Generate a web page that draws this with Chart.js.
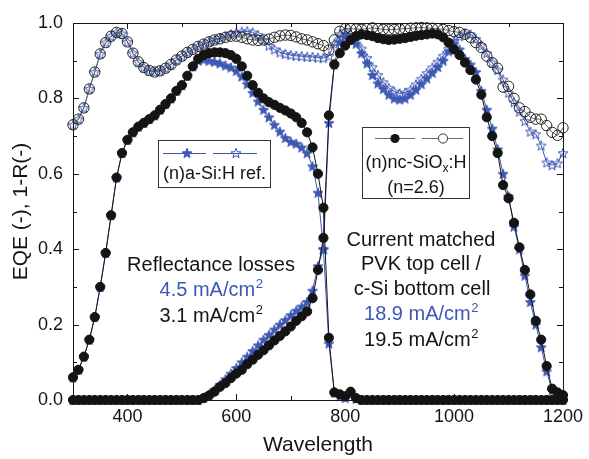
<!DOCTYPE html>
<html>
<head>
<meta charset="utf-8">
<script src="https://cdn.jsdelivr.net/npm/chart.js@4.4.1/dist/chart.umd.min.js"></script>
<style>
  html, body { margin: 0; padding: 0; background: #fff; }
</style>
</head>
<body>
<canvas id="eqeChart" width="589" height="459"></canvas>
<script>
// wavelength (nm), one point every 10 nm
const wavelength = [
  300, 310, 320, 330, 340, 350, 360, 370, 380, 390,
  400, 410, 420, 430, 440, 450, 460, 470, 480, 490,
  500, 510, 520, 530, 540, 550, 560, 570, 580, 590,
  600, 610, 620, 630, 640, 650, 660, 670, 680, 690,
  700, 710, 720, 730, 740, 750, 760, 770, 780, 790,
  800, 810, 820, 830, 840, 850, 860, 870, 880, 890,
  900, 910, 920, 930, 940, 950, 960, 970, 980, 990,
  1000, 1010, 1020, 1030, 1040, 1050, 1060, 1070, 1080, 1090,
  1100, 1110, 1120, 1130, 1140, 1150, 1160, 1170, 1180, 1190,
  1200
];

// EQE of the PVK top cell, (n)nc-SiOx:H (black dots)
const eqeTopNc = [
  0.06, 0.08, 0.115, 0.16, 0.22, 0.30, 0.39, 0.49, 0.59, 0.655,
  0.69, 0.71, 0.725, 0.735, 0.745, 0.755, 0.77, 0.785, 0.80, 0.82,
  0.835, 0.86, 0.885, 0.905, 0.915, 0.92, 0.922, 0.922, 0.92, 0.915,
  0.905, 0.885, 0.86, 0.835, 0.815, 0.80, 0.79, 0.783, 0.775, 0.768,
  0.76, 0.75, 0.735, 0.71, 0.67, 0.60, 0.51, 0.165, 0.02, 0.015,
  0.01, 0.022, 0.005, 0, 0, 0, 0, 0, 0, 0,
  0, 0, 0, 0, 0, 0, 0, 0, 0, 0,
  0, 0, 0, 0, 0, 0, 0, 0, 0, 0,
  0, 0, 0, 0, 0, 0, 0, 0, 0, 0,
  0
];

// EQE of the PVK top cell, (n)a-Si:H ref. (blue stars)
const eqeTopA = [
  0.06, 0.08, 0.115, 0.16, 0.22, 0.30, 0.39, 0.49, 0.59, 0.655,
  0.69, 0.71, 0.725, 0.735, 0.745, 0.755, 0.77, 0.785, 0.80, 0.82,
  0.835, 0.86, 0.885, 0.90, 0.903, 0.90, 0.897, 0.893, 0.887, 0.882,
  0.873, 0.858, 0.838, 0.815, 0.792, 0.77, 0.75, 0.73, 0.712, 0.695,
  0.685, 0.68, 0.67, 0.655, 0.62, 0.55, 0.40, 0.15, 0.02, 0.01,
  0.005, 0.015, 0.003, 0, 0, 0, 0, 0, 0, 0,
  0, 0, 0, 0, 0, 0, 0, 0, 0, 0,
  0, 0, 0, 0, 0, 0, 0, 0, 0, 0,
  0, 0, 0, 0, 0, 0, 0, 0, 0, 0,
  0
];

// EQE of the c-Si bottom cell, (n)nc-SiOx:H (black dots)
const eqeBotNc = [
  0, 0, 0, 0, 0, 0, 0, 0, 0, 0,
  0, 0, 0, 0, 0, 0, 0, 0, 0, 0,
  0, 0, 0, 0, 0.005, 0.012, 0.022, 0.035, 0.045, 0.058,
  0.07, 0.08, 0.095, 0.107, 0.12, 0.132, 0.145, 0.158, 0.17, 0.182,
  0.195, 0.21, 0.222, 0.235, 0.27, 0.345, 0.43, 0.755, 0.89, 0.92,
  0.94, 0.955, 0.965, 0.97, 0.968, 0.965, 0.96, 0.957, 0.955, 0.956,
  0.958, 0.96, 0.963, 0.966, 0.968, 0.97, 0.972, 0.97, 0.962, 0.948,
  0.93, 0.915, 0.895, 0.875, 0.85, 0.81, 0.75, 0.70, 0.655, 0.57,
  0.535, 0.47, 0.405, 0.345, 0.28, 0.21, 0.16, 0.09, 0.03, 0.02,
  0.013
];

// EQE of the c-Si bottom cell, (n)a-Si:H ref. (blue stars)
const eqeBotA = [
  0, 0, 0, 0, 0, 0, 0, 0, 0, 0,
  0, 0, 0, 0, 0, 0, 0, 0, 0, 0,
  0, 0, 0, 0, 0.006, 0.015, 0.027, 0.04, 0.055, 0.07,
  0.085, 0.10, 0.115, 0.13, 0.145, 0.16, 0.173, 0.187, 0.20, 0.212,
  0.225, 0.237, 0.248, 0.26, 0.29, 0.355, 0.40, 0.735, 0.89, 0.95,
  0.965, 0.958, 0.945, 0.92, 0.893, 0.862, 0.84, 0.825, 0.81, 0.80,
  0.797, 0.80, 0.81, 0.823, 0.838, 0.853, 0.868, 0.883, 0.90, 0.925,
  0.945, 0.93, 0.905, 0.89, 0.87, 0.82, 0.77, 0.72, 0.665, 0.60,
  0.54, 0.46, 0.40, 0.33, 0.26, 0.20, 0.14, 0.076, 0.025, 0.015,
  0.01
];

// 1-R, (n)nc-SiOx:H (open circles)
const oneMinusRNc = [
  0.73, 0.745, 0.775, 0.825, 0.87, 0.918, 0.948, 0.965, 0.975, 0.972,
  0.95, 0.92, 0.897, 0.882, 0.874, 0.87, 0.873, 0.88, 0.89, 0.902,
  0.912, 0.922, 0.93, 0.938, 0.944, 0.95, 0.955, 0.958, 0.962, 0.965,
  0.965, 0.962, 0.958, 0.955, 0.954, 0.955, 0.957, 0.962, 0.966, 0.968,
  0.967, 0.963, 0.958, 0.955, 0.95, 0.945, 0.94, 0.928, 0.955, 0.978,
  0.985, 0.985, 0.984, 0.983, 0.985, 0.987, 0.985, 0.983, 0.982, 0.983,
  0.984, 0.985, 0.986, 0.987, 0.988, 0.987, 0.986, 0.985, 0.983, 0.98,
  0.977, 0.975, 0.97, 0.962, 0.948, 0.935, 0.912, 0.895, 0.88, 0.83,
  0.832, 0.80, 0.775, 0.765, 0.75, 0.745, 0.745, 0.728, 0.71, 0.702,
  0.722
];

// 1-R, (n)a-Si:H ref. (open stars)
const oneMinusRA = [
  0.73, 0.745, 0.775, 0.825, 0.87, 0.918, 0.948, 0.965, 0.975, 0.972,
  0.95, 0.92, 0.897, 0.882, 0.874, 0.87, 0.873, 0.88, 0.89, 0.902,
  0.912, 0.922, 0.93, 0.938, 0.944, 0.95, 0.955, 0.96, 0.965, 0.97,
  0.974, 0.977, 0.978, 0.975, 0.968, 0.955, 0.94, 0.93, 0.922, 0.918,
  0.915, 0.913, 0.912, 0.91, 0.91, 0.908, 0.907, 0.912, 0.945, 0.97,
  0.978, 0.97, 0.955, 0.932, 0.907, 0.883, 0.862, 0.843, 0.828, 0.818,
  0.813, 0.815, 0.823, 0.837, 0.852, 0.867, 0.882, 0.897, 0.913, 0.932,
  0.952, 0.965, 0.972, 0.97, 0.958, 0.94, 0.92, 0.895, 0.875, 0.85,
  0.815, 0.79, 0.765, 0.74, 0.712, 0.705, 0.675, 0.63, 0.623, 0.628,
  0.655
];

const xMajorTicks = [400, 600, 800, 1000, 1200];
const xMinorTicks = [300, 500, 700, 900, 1100];
const yMajorTicks = [0, 0.2, 0.4, 0.6, 0.8, 1.0];
const yMinorTicks = [0.1, 0.3, 0.5, 0.7, 0.9];

const BLUE = '#3d58b4';
const INK = '#141414';
const GREY = '#6a6a6a';
const FONT = '"Liberation Sans", Arial, sans-serif';

const toPts = ys => wavelength.map((w, i) => ({ x: w, y: ys[i] }));

// 5 pointed star marker, drawn once into a small canvas
function makeStar(fill, stroke) {
  const c = document.createElement('canvas');
  c.width = 12; c.height = 12;
  const g = c.getContext('2d');
  g.beginPath();
  for (let k = 0; k < 10; k++) {
    const r = k % 2 === 0 ? 5.2 : 2.2;
    const a = -Math.PI / 2 + k * Math.PI / 5;
    const px = 6 + r * Math.cos(a), py = 6.5 + r * Math.sin(a);
    if (k === 0) g.moveTo(px, py); else g.lineTo(px, py);
  }
  g.closePath();
  if (fill) { g.fillStyle = fill; g.fill(); }
  g.strokeStyle = stroke;
  g.lineWidth = 1;
  g.stroke();
  return c;
}
const starFilled = makeStar(BLUE, BLUE);
const starOpen = makeStar(null, BLUE);

function line(ctx, x1, y1, x2, y2) {
  ctx.beginPath(); ctx.moveTo(x1, y1); ctx.lineTo(x2, y2); ctx.stroke();
}

// text with a superscript "2" at the end, centred on cx
function unitText(ctx, main, cx, base, color) {
  ctx.font = '20px ' + FONT;
  const w1 = ctx.measureText(main).width;
  ctx.font = '13px ' + FONT;
  const w2 = ctx.measureText('2').width;
  const x0 = cx - (w1 + w2) / 2;
  ctx.fillStyle = color;
  ctx.textAlign = 'left';
  ctx.font = '20px ' + FONT;
  ctx.fillText(main, x0, base);
  ctx.font = '13px ' + FONT;
  ctx.fillText('2', x0 + w1 + 0.5, base - 8);
}

const framePlugin = {
  id: 'frame',
  afterDraw(chart) {
    const { ctx, chartArea: a, scales: { x, y } } = chart;
    ctx.save();
    ctx.strokeStyle = INK;
    ctx.lineWidth = 1;
    ctx.strokeRect(a.left + 0.5, a.top + 0.5, a.right - a.left, a.bottom - a.top);
    const xt = (vals, len) => vals.forEach(v => {
      const p = Math.round(x.getPixelForValue(v)) + 0.5;
      line(ctx, p, a.bottom, p, a.bottom - len);
      line(ctx, p, a.top, p, a.top + len);
    });
    const yt = (vals, len) => vals.forEach(v => {
      const p = Math.round(y.getPixelForValue(v)) + 0.5;
      line(ctx, a.left, p, a.left + len, p);
      line(ctx, a.right, p, a.right - len, p);
    });
    xt(xMajorTicks, 6); xt(xMinorTicks, 4);
    yt(yMajorTicks, 6); yt(yMinorTicks, 4);

    // legend box for the a-Si:H reference
    ctx.strokeStyle = '#333';
    ctx.strokeRect(158.5, 140.5, 112, 47);
    ctx.strokeStyle = BLUE;
    line(ctx, 163, 153.5, 206, 153.5);
    line(ctx, 213, 153.5, 257, 153.5);
    ctx.drawImage(starFilled, 187 - 6, 153.5 - 6.5);
    ctx.drawImage(starOpen, 236 - 6, 153.5 - 6.5);
    ctx.fillStyle = INK;
    ctx.textAlign = 'center';
    ctx.textBaseline = 'alphabetic';
    ctx.font = '18px ' + FONT;
    ctx.fillText('(n)a-Si:H ref.', 214.5, 179);

    // legend box for the nc-SiOx:H layer
    ctx.strokeStyle = '#333';
    ctx.strokeRect(362.5, 127.5, 107, 71);
    ctx.strokeStyle = GREY;
    line(ctx, 375, 138.5, 415, 138.5);
    line(ctx, 422, 138.5, 463, 138.5);
    ctx.fillStyle = INK;
    ctx.beginPath(); ctx.arc(395, 138.5, 4.6, 0, Math.PI * 2); ctx.fill();
    ctx.fillStyle = '#fff';
    ctx.strokeStyle = '#333';
    ctx.beginPath(); ctx.arc(443, 138.5, 4.6, 0, Math.PI * 2); ctx.fill(); ctx.stroke();
    ctx.fillStyle = INK;
    ctx.font = '18px ' + FONT;
    const p1 = '(n)nc-SiO', p3 = ':H';
    const w1 = ctx.measureText(p1).width, w3 = ctx.measureText(p3).width;
    ctx.font = '12px ' + FONT;
    const w2 = ctx.measureText('x').width;
    let sx = 416 - (w1 + w2 + w3) / 2;
    ctx.textAlign = 'left';
    ctx.font = '18px ' + FONT;
    ctx.fillText(p1, sx, 168);
    ctx.font = '12px ' + FONT;
    ctx.fillText('x', sx + w1, 172);
    ctx.font = '18px ' + FONT;
    ctx.fillText(p3, sx + w1 + w2, 168);
    ctx.textAlign = 'center';
    ctx.fillText('(n=2.6)', 416, 193);

    // annotations
    ctx.font = '20px ' + FONT;
    ctx.fillStyle = INK;
    ctx.fillText('Reflectance losses', 211, 271);
    unitText(ctx, '4.5 mA/cm', 211, 296, BLUE);
    unitText(ctx, '3.1 mA/cm', 211, 322, INK);
    ctx.textAlign = 'center';
    ctx.font = '20px ' + FONT;
    ctx.fillStyle = INK;
    ctx.fillText('Current matched', 421, 246);
    ctx.fillText('PVK top cell /', 421, 270);
    ctx.fillText('c-Si bottom cell', 422, 295);
    unitText(ctx, '18.9 mA/cm', 421, 320, BLUE);
    unitText(ctx, '19.5 mA/cm', 421, 346, INK);
    ctx.restore();
  }
};

const lineBase = { borderWidth: 1, tension: 0, fill: false, clip: false, pointHoverRadius: 0 };

new Chart(document.getElementById('eqeChart'), {
  type: 'line',
  data: {
    datasets: [
      Object.assign({}, lineBase, {
        label: 'EQE top (n)nc-SiOx:H', data: toPts(eqeTopNc),
        borderColor: INK, pointStyle: 'circle', pointRadius: 4.6,
        pointBackgroundColor: INK, pointBorderColor: INK, pointBorderWidth: 1
      }),
      Object.assign({}, lineBase, {
        label: 'EQE bottom (n)nc-SiOx:H', data: toPts(eqeBotNc),
        borderColor: INK, pointStyle: 'circle', pointRadius: 4.6,
        pointBackgroundColor: INK, pointBorderColor: INK, pointBorderWidth: 1
      }),
      Object.assign({}, lineBase, {
        label: 'EQE top (n)a-Si:H ref.', data: toPts(eqeTopA),
        borderColor: BLUE, pointStyle: starFilled, pointRadius: 5
      }),
      Object.assign({}, lineBase, {
        label: 'EQE bottom (n)a-Si:H ref.', data: toPts(eqeBotA),
        borderColor: BLUE, pointStyle: starFilled, pointRadius: 5
      }),
      Object.assign({}, lineBase, {
        label: '1-R (n)nc-SiOx:H', data: toPts(oneMinusRNc),
        borderColor: GREY, pointStyle: 'circle', pointRadius: 5.2,
        pointBackgroundColor: 'rgba(0,0,0,0)', pointBorderColor: '#222', pointBorderWidth: 1
      }),
      Object.assign({}, lineBase, {
        label: '1-R (n)a-Si:H ref.', data: toPts(oneMinusRA),
        borderColor: BLUE, pointStyle: starOpen, pointRadius: 5
      })
    ]
  },
  options: {
    responsive: false,
    animation: false,
    events: [],
    layout: { padding: { top: 23, right: 24, bottom: 0, left: 0 } },
    plugins: { legend: { display: false }, tooltip: { enabled: false } },
    scales: {
      x: {
        type: 'linear', min: 300, max: 1200,
        afterBuildTicks: s => { s.ticks = xMajorTicks.map(v => ({ value: v })); },
        afterFit: s => { s.height = 59; },
        grid: { display: false, drawTicks: false },
        border: { display: false },
        ticks: { color: INK, font: { family: FONT, size: 18 }, padding: 6, maxRotation: 0, autoSkip: false,
                 callback: v => String(v) },
        title: { display: true, text: 'Wavelength', color: INK, font: { family: FONT, size: 21 },
                 padding: { top: 0, bottom: 1 } }
      },
      y: {
        min: 0, max: 1,
        afterBuildTicks: s => { s.ticks = yMajorTicks.map(v => ({ value: v })); },
        afterFit: s => { s.width = 73; },
        grid: { display: false, drawTicks: false },
        border: { display: false },
        ticks: { color: INK, font: { family: FONT, size: 18 }, padding: 10,
                 callback: v => v.toFixed(1) },
        title: { display: true, text: 'EQE (-), 1-R(-)', color: INK, font: { family: FONT, size: 21 },
                 padding: { top: 9, bottom: 0 } }
      }
    }
  },
  plugins: [framePlugin]
});
</script>
</body>
</html>
